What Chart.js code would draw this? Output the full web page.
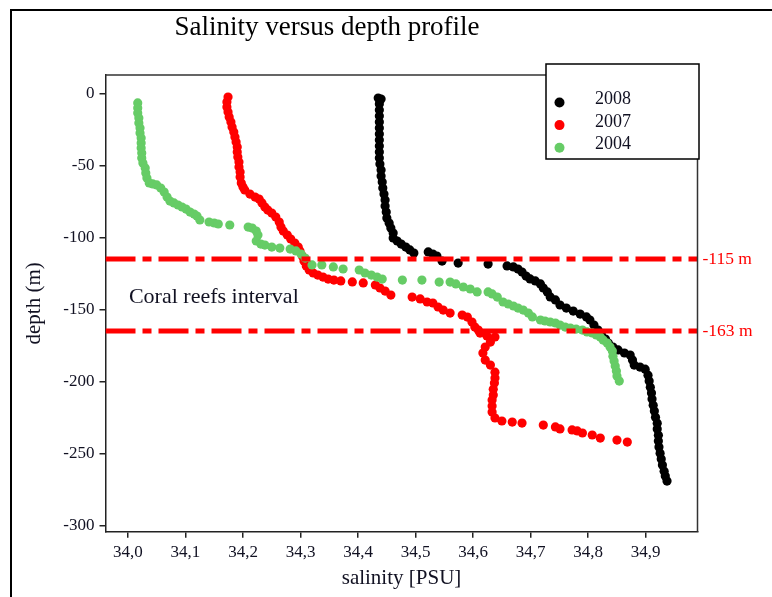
<!DOCTYPE html>
<html>
<head>
<meta charset="utf-8">
<title>Salinity versus depth profile</title>
<script src="https://cdn.jsdelivr.net/npm/chart.js@4.4.1/dist/chart.umd.min.js"></script>
<style>
  html, body { margin: 0; padding: 0; background: #fff; }
  canvas { display: block; }
</style>
</head>
<body>
<canvas id="chart" width="772" height="597"></canvas>
<script>
// profile points: [salinity (PSU), depth (m)]
const profile2008 = [
  [34.435,-3.3],[34.440,-4.0],[34.437,-7.4],[34.437,-11.6],[34.437,-15.8],[34.437,-19.9],[34.437,-24.1],
  [34.437,-28.2],[34.437,-32.4],[34.437,-36.6],[34.437,-40.7],[34.437,-44.9],[34.438,-49.1],[34.440,-53.2],
  [34.440,-57.4],[34.442,-61.6],[34.443,-65.7],[34.445,-69.9],[34.447,-74.1],[34.447,-78.2],[34.449,-82.4],
  [34.450,-86.6],[34.454,-90.0],[34.457,-93.5],[34.461,-97.0],[34.461,-100.4],[34.468,-102.5],[34.475,-104.6],
  [34.483,-106.7],[34.490,-108.7],[34.497,-110.8],[34.522,-110.1],[34.530,-111.5],[34.537,-112.9],[34.546,-116.4],
  [34.574,-117.8],[34.626,-118.5],[34.659,-119.8],[34.670,-120.5],[34.678,-121.9],[34.685,-124.0],[34.692,-126.8],
  [34.699,-128.8],[34.708,-130.2],[34.717,-132.3],[34.722,-135.1],[34.729,-137.8],[34.734,-141.3],[34.743,-143.4],
  [34.751,-146.9],[34.762,-149.0],[34.774,-151.1],[34.786,-153.2],[34.797,-155.2],[34.803,-157.3],[34.810,-160.8],
  [34.817,-164.3],[34.823,-167.7],[34.830,-170.5],[34.835,-173.3],[34.843,-176.1],[34.852,-178.1],[34.863,-180.2],
  [34.873,-181.6],[34.877,-185.1],[34.880,-188.6],[34.890,-190.0],[34.899,-191.4],[34.904,-195.6],[34.906,-199.7],
  [34.908,-203.9],[34.910,-208.0],[34.911,-212.2],[34.913,-216.4],[34.915,-220.5],[34.917,-224.7],[34.920,-228.9],
  [34.920,-233.0],[34.922,-237.2],[34.922,-241.3],[34.923,-245.5],[34.925,-249.7],[34.927,-253.8],[34.929,-258.0],
  [34.932,-262.2],[34.934,-265.6],[34.937,-269.1]
];
const profile2007 = [
  [34.174,-2.6],[34.172,-6.0],[34.172,-9.5],[34.174,-12.9],[34.176,-16.4],[34.179,-19.9],[34.181,-23.4],
  [34.184,-26.8],[34.186,-30.3],[34.188,-33.8],[34.190,-37.3],[34.190,-40.7],[34.191,-44.2],[34.193,-47.7],
  [34.193,-51.1],[34.195,-54.6],[34.195,-58.1],[34.197,-62.2],[34.200,-65.0],[34.203,-67.1],[34.212,-69.9],
  [34.221,-72.0],[34.228,-73.4],[34.233,-76.1],[34.238,-78.9],[34.243,-81.0],[34.250,-83.1],[34.257,-85.9],
  [34.263,-89.3],[34.266,-92.8],[34.270,-95.6],[34.277,-98.4],[34.283,-101.1],[34.290,-103.9],[34.296,-106.7],
  [34.299,-109.4],[34.303,-112.9],[34.306,-116.4],[34.310,-119.8],[34.315,-122.6],[34.322,-124.7],[34.330,-126.1],
  [34.339,-127.5],[34.348,-128.9],[34.358,-129.6],[34.370,-130.2],[34.390,-130.9],[34.409,-131.6],[34.430,-133.0],
  [34.438,-135.1],[34.447,-137.2],[34.457,-140.0],[34.494,-141.4],[34.508,-142.7],[34.520,-144.8],[34.530,-145.5],
  [34.539,-148.3],[34.548,-150.4],[34.560,-152.5],[34.581,-153.9],[34.590,-155.3],[34.598,-158.7],[34.603,-162.2],
  [34.609,-164.3],[34.612,-166.4],[34.624,-168.4],[34.638,-169.1],[34.630,-172.6],[34.621,-176.1],[34.617,-180.2],
  [34.621,-185.1],[34.630,-188.6],[34.638,-193.5],[34.638,-197.6],[34.637,-201.1],[34.635,-205.3],[34.635,-209.4],
  [34.633,-212.8],[34.633,-217.0],[34.633,-221.2],[34.638,-225.3],[34.650,-227.4],[34.668,-228.1],[34.685,-228.8],
  [34.722,-230.2],[34.743,-231.5],[34.751,-232.9],[34.772,-233.6],[34.781,-234.3],[34.790,-235.7],[34.807,-237.1],
  [34.821,-239.2],[34.850,-240.6],[34.868,-242.0]
];
const profile2004 = [
  [34.017,-6.7],[34.017,-10.2],[34.017,-13.7],[34.019,-17.1],[34.019,-20.6],[34.021,-24.1],[34.021,-27.6],
  [34.023,-31.0],[34.023,-34.5],[34.023,-38.0],[34.024,-41.4],[34.024,-44.9],[34.026,-48.4],[34.030,-51.8],
  [34.031,-55.3],[34.033,-58.8],[34.037,-62.2],[34.043,-62.9],[34.050,-63.6],[34.057,-65.7],[34.063,-68.5],
  [34.068,-72.0],[34.073,-74.8],[34.080,-76.1],[34.087,-77.5],[34.094,-78.9],[34.101,-80.3],[34.108,-82.4],
  [34.115,-83.8],[34.120,-85.2],[34.125,-87.9],[34.141,-89.3],[34.150,-90.0],[34.157,-90.7],[34.177,-91.4],
  [34.209,-92.8],[34.216,-93.5],[34.223,-95.6],[34.226,-98.4],[34.223,-102.5],[34.231,-104.6],[34.238,-105.3],
  [34.250,-106.7],[34.264,-107.4],[34.282,-108.1],[34.292,-109.4],[34.301,-111.5],[34.308,-114.3],[34.320,-119.1],
  [34.337,-119.1],[34.357,-120.5],[34.374,-121.9],[34.402,-122.6],[34.412,-124.7],[34.423,-126.1],[34.433,-127.5],
  [34.442,-128.9],[34.477,-129.6],[34.511,-129.6],[34.541,-131.0],[34.560,-131.0],[34.570,-132.3],[34.583,-134.4],
  [34.595,-135.8],[34.607,-137.8],[34.626,-137.8],[34.633,-139.2],[34.642,-141.4],[34.652,-144.8],[34.661,-146.2],
  [34.670,-147.6],[34.678,-149.0],[34.687,-150.4],[34.696,-152.5],[34.703,-155.2],[34.717,-157.3],[34.725,-158.0],
  [34.734,-158.7],[34.743,-159.4],[34.751,-160.8],[34.760,-162.2],[34.769,-162.9],[34.779,-163.6],[34.790,-164.3],
  [34.798,-165.6],[34.807,-166.3],[34.814,-167.7],[34.821,-169.1],[34.826,-171.2],[34.833,-173.3],[34.838,-176.1],
  [34.842,-178.9],[34.843,-182.4],[34.845,-185.8],[34.847,-189.3],[34.849,-192.7],[34.850,-196.2],[34.854,-199.7]
];

const years = ['2008', '2007', '2004'];
const salinityTicks = [34.0, 34.1, 34.2, 34.3, 34.4, 34.5, 34.6, 34.7, 34.8, 34.9];
const depthTicks = [0, -50, -100, -150, -200, -250, -300];
const salinityRange = [33.961, 34.990];
const depthRange = [-304.2, 12.7];
const reefDepths = [-115, -165];
const reefLabels = ['-115 m', '-163 m'];

const SERIF = "'Liberation Serif', 'Times New Roman', serif";
const colors = ['#000000', '#ff0000', '#66cc66'];
const TEXT = '#111122';

function toPoints(rows) {
  return rows.map(r => ({ x: r[0], y: r[1] }));
}

const profiles = [profile2008, profile2007, profile2004];
const datasets = profiles.map((rows, i) => ({
  label: years[i],
  data: toPoints(rows),
  backgroundColor: colors[i],
  borderColor: colors[i],
  pointRadius: 4.6,
  pointHoverRadius: 4.6,
  pointBorderWidth: 0,
  order: 3 - i
}));

// the two reef limits, dash-dot lines across the plot
reefDepths.forEach(d => {
  datasets.push({
    label: 'reef ' + d,
    data: [{ x: salinityRange[0], y: d }, { x: salinityRange[1], y: d }],
    showLine: true,
    borderColor: '#ff0000',
    borderWidth: 5,
    borderDash: [30, 7, 9, 7],
    pointRadius: 0,
    order: 0
  });
});

const decor = {
  id: 'decor',
  beforeDraw(chart) {
    const ctx = chart.ctx;
    ctx.save();
    ctx.fillStyle = '#fff';
    ctx.fillRect(0, 0, chart.width, chart.height);
    ctx.restore();
  },
  afterDraw(chart) {
    const { ctx, chartArea: a, scales: { x, y } } = chart;
    ctx.save();

    // outer frame (only top and left visible)
    ctx.strokeStyle = '#000';
    ctx.lineWidth = 2;
    ctx.strokeRect(11, 10, 900, 900);

    // top and right edges of the plot box
    ctx.strokeStyle = '#333';
    ctx.lineWidth = 1.5;
    ctx.beginPath();
    ctx.moveTo(a.left, a.top);
    ctx.lineTo(a.right, a.top);
    ctx.lineTo(a.right, a.bottom);
    ctx.stroke();

    // title
    ctx.fillStyle = '#000';
    ctx.font = '27px ' + SERIF;
    ctx.textAlign = 'center';
    ctx.textBaseline = 'middle';
    ctx.fillText('Salinity versus depth profile', 327, 28);

    // legend box
    const lx = 546, ly = 64, lw = 153, lh = 95;
    ctx.fillStyle = '#fff';
    ctx.fillRect(lx, ly, lw, lh);
    ctx.strokeStyle = '#000';
    ctx.lineWidth = 1.5;
    ctx.strokeRect(lx, ly, lw, lh);
    ctx.font = '18px ' + SERIF;
    ctx.textAlign = 'left';
    years.forEach((yr, i) => {
      const cy = 102.5 + i * 22.6;
      ctx.fillStyle = colors[i];
      ctx.beginPath();
      ctx.arc(559.5, cy, 5, 0, Math.PI * 2);
      ctx.fill();
      ctx.fillStyle = TEXT;
      ctx.fillText(yr, 595, cy - 3);
    });

    // reef interval labels
    ctx.fillStyle = '#ff0000';
    ctx.font = '17.5px ' + SERIF;
    reefDepths.forEach((d, i) => {
      ctx.fillText(reefLabels[i], a.right + 5, y.getPixelForValue(d));
    });
    ctx.fillStyle = TEXT;
    ctx.font = '22px ' + SERIF;
    const mid = (reefDepths[0] + reefDepths[1]) / 2;
    ctx.fillText('Coral reefs interval', x.getPixelForValue(34.0) + 1, y.getPixelForValue(mid) + 2);

    ctx.restore();
  }
};

new Chart(document.getElementById('chart'), {
  type: 'scatter',
  data: { datasets: datasets },
  options: {
    responsive: false,
    animation: false,
    events: [],
    layout: { padding: { left: 0, top: 75, right: 74.5, bottom: 0 } },
    plugins: {
      legend: { display: false },
      tooltip: { enabled: false },
      title: { display: false }
    },
    scales: {
      x: {
        type: 'linear',
        min: salinityRange[0],
        max: salinityRange[1],
        afterBuildTicks: s => { s.ticks = salinityTicks.map(v => ({ value: v })); },
        afterFit: s => { s.height = 65.3; },
        ticks: {
          autoSkip: false,
          maxRotation: 0,
          padding: 5,
          color: TEXT,
          font: { family: SERIF, size: 17 },
          callback: v => v.toFixed(1).replace('.', ',')
        },
        grid: { drawOnChartArea: false, drawTicks: true, tickLength: 6, color: '#222', lineWidth: 1.5 },
        border: { display: true, color: '#222', width: 1.5 },
        title: {
          display: true,
          text: 'salinity [PSU]',
          color: TEXT,
          font: { family: SERIF, size: 21 },
          padding: { top: 0, bottom: 6 }
        }
      },
      y: {
        type: 'linear',
        min: depthRange[0],
        max: depthRange[1],
        afterBuildTicks: s => { s.ticks = depthTicks.map(v => ({ value: v })); },
        afterFit: s => { s.width = 105.5; },
        ticks: {
          padding: 5,
          color: TEXT,
          font: { family: SERIF, size: 17 },
          callback: v => String(v)
        },
        grid: { drawOnChartArea: false, drawTicks: true, tickLength: 6, color: '#222', lineWidth: 1.5 },
        border: { display: true, color: '#222', width: 1.5 },
        title: {
          display: true,
          text: 'depth (m)',
          color: TEXT,
          font: { family: SERIF, size: 21 },
          padding: { top: 22, bottom: 0 }
        }
      }
    }
  },
  plugins: [decor]
});
</script>
</body>
</html>
